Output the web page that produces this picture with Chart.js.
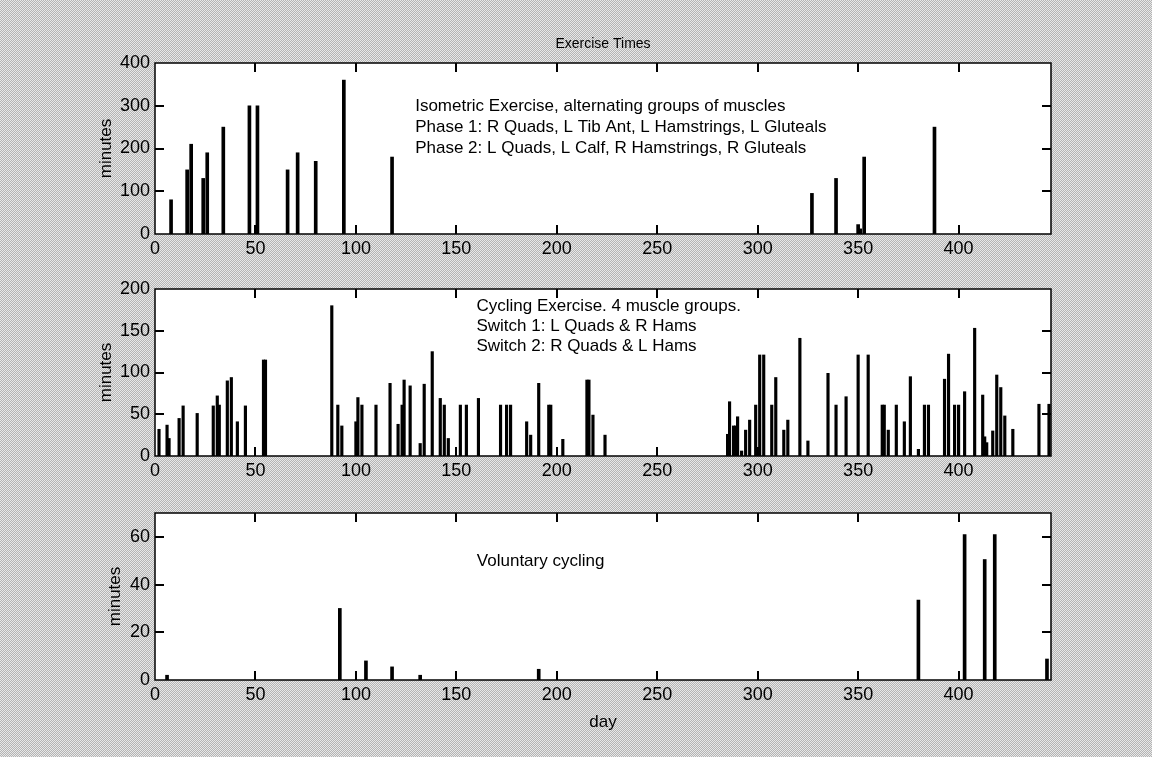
<!DOCTYPE html>
<html>
<head>
<meta charset="utf-8">
<script src="https://cdn.jsdelivr.net/npm/chart.js@4.4.0/dist/chart.umd.min.js"></script>
<style>
  html, body { margin: 0; padding: 0; }
  body {
    width: 1152px; height: 757px; overflow: hidden; position: relative;
    background: repeating-conic-gradient(#b4b4b4 0 25%, #e8e8e8 0 50%) 0 0 / 2px 2px;
  }
  canvas { position: absolute; left: 0; top: 0; }
</style>
</head>
<body>
<canvas id="iso" width="1152" height="757"></canvas>
<canvas id="cyc" width="1152" height="757"></canvas>
<canvas id="vol" width="1152" height="757"></canvas>
<script>
// isometric exercise sessions (day, minutes)
const isoDays = [8, 16, 18, 24, 26, 34, 47, 51, 66, 71, 80, 94, 118, 327, 339, 350, 351, 353, 388];
const isoMins = [80, 150, 210, 130, 190, 250, 300, 300, 150, 190, 170, 360, 180, 95, 130, 22, 12, 180, 250];

// cycling exercise sessions
const cycDays = [2, 6, 7, 12, 14, 21, 29, 31, 32, 36, 38, 41, 45, 54, 55, 88, 91, 93, 100, 101,
  103, 110, 117, 121, 123, 124, 127, 132, 134, 138, 142, 144, 146, 152, 155, 161, 172, 175, 177, 185,
  187, 191, 196, 197, 203, 215, 216, 218, 224, 285, 286, 288, 289, 290, 292, 294, 296, 299, 301, 303,
  307, 309, 313, 315, 321, 325, 335, 339, 344, 350, 355, 362, 363, 365, 369, 373, 376, 380, 383, 385,
  393, 395, 398, 400, 403, 408, 412, 413, 414, 417, 419, 421, 423, 427, 440, 445];
const cycMins = [32, 37, 21, 45, 60, 51, 60, 72, 61, 90, 94, 41, 60, 115, 115, 180, 61, 36, 41, 70,
  61, 61, 87, 38, 61, 91, 84, 15, 86, 125, 69, 61, 21, 61, 61, 69, 61, 61, 61, 41,
  25, 87, 61, 61, 20, 91, 91, 49, 25, 26, 65, 36, 36, 47, 6, 31, 43, 61, 121, 121,
  61, 94, 31, 43, 141, 18, 99, 61, 71, 121, 121, 61, 61, 31, 61, 41, 95, 8, 61, 61,
  92, 122, 61, 61, 77, 153, 73, 23, 16, 30, 97, 82, 48, 32, 62, 62];

// voluntary cycling sessions
const volDays = [6, 92, 105, 118, 132, 191, 380, 403, 413, 418, 444];
const volMins = [2, 30, 8, 5.5, 2, 4.5, 33.5, 61, 50.5, 61, 8.8];

const isoNotes = ['Isometric Exercise, alternating groups of muscles',
  'Phase 1: R Quads, L Tib Ant, L Hamstrings, L Gluteals',
  'Phase 2: L Quads, L Calf, R Hamstrings, R Gluteals'];
const cycNotes = ['Cycling Exercise. 4 muscle groups.',
  'Switch 1: L Quads & R Hams',
  'Switch 2: R Quads & L Hams'];
const volNotes = ['Voluntary cycling'];

const FONT = "'Liberation Sans', Arial, sans-serif";

// white plot area, box, inward ticks and the text notes
const framePlugin = {
  id: 'frame',
  beforeDraw(chart) {
    const { ctx, chartArea: a } = chart;
    ctx.save();
    ctx.fillStyle = '#fff';
    ctx.fillRect(a.left, a.top, a.right - a.left, a.bottom - a.top);
    ctx.restore();
  },
  afterDatasetsDraw(chart, args, opts) {
    const { ctx, chartArea: a, scales: { x, y } } = chart;
    ctx.save();
    ctx.strokeStyle = '#000';
    ctx.lineWidth = 2;
    ctx.beginPath();
    x.ticks.forEach(t => {
      const px = Math.round(x.getPixelForValue(t.value));
      if (px <= a.left + 1 || px >= a.right - 1) return;
      ctx.moveTo(px, a.bottom); ctx.lineTo(px, a.bottom - 9);
      ctx.moveTo(px, a.top); ctx.lineTo(px, a.top + 9);
    });
    y.ticks.forEach(t => {
      const py = Math.round(y.getPixelForValue(t.value));
      if (py <= a.top + 1 || py >= a.bottom - 1) return;
      ctx.moveTo(a.left, py); ctx.lineTo(a.left + 9, py);
      ctx.moveTo(a.right, py); ctx.lineTo(a.right - 9, py);
    });
    ctx.stroke();
    ctx.lineWidth = 1.5;
    ctx.strokeRect(a.left, a.top, a.right - a.left, a.bottom - a.top);

    ctx.fillStyle = '#000';
    ctx.font = '17px ' + FONT;
    ctx.textBaseline = 'middle';
    const nx = x.getPixelForValue(opts.at[0]);
    const ny = y.getPixelForValue(opts.at[1]);
    opts.lines.forEach((s, i) => ctx.fillText(s, nx, ny + i * opts.gap));
    ctx.restore();
  }
};

function makeChart(id, days, mins, cfg) {
  const points = days.map((d, i) => ({ x: d, y: mins[i] }));
  return new Chart(document.getElementById(id), {
    type: 'bar',
    data: {
      datasets: [{
        data: points,
        backgroundColor: '#000',
        borderWidth: 0,
        barThickness: cfg.thick
      }]
    },
    options: {
      responsive: false,
      animation: false,
      layout: { padding: { left: 155 - cfg.yWidth, right: 101, top: cfg.padTop, bottom: cfg.padBottom } },
      plugins: {
        legend: { display: false },
        tooltip: { enabled: false },
        title: {
          display: !!cfg.title,
          text: cfg.title || '',
          fullSize: false,
          color: '#000',
          font: { family: FONT, size: 14, weight: 'normal' },
          padding: { top: 2, bottom: 10 }
        },
        frame: { lines: cfg.notes, at: cfg.noteAt, gap: cfg.gap }
      },
      scales: {
        x: {
          type: 'linear',
          min: 0, max: 446,
          offset: false,
          grid: { display: false, drawTicks: false },
          border: { display: false },
          ticks: { stepSize: 50, includeBounds: false, maxRotation: 0, padding: 4,
                   color: '#000', font: { family: FONT, size: 18 } },
          title: { display: !!cfg.xTitle, text: cfg.xTitle || '', color: '#000',
                   font: { family: FONT, size: 17 }, padding: 0 },
          afterFit(s) { s.height = cfg.xHeight; }
        },
        y: {
          min: 0, max: cfg.yMax,
          grid: { display: false, drawTicks: false },
          border: { display: false },
          ticks: { stepSize: cfg.yStep, includeBounds: false, padding: 5,
                   color: '#000', font: { family: FONT, size: 18 } },
          title: { display: true, text: 'minutes', color: '#000',
                   font: { family: FONT, size: 17 }, padding: 0 },
          afterFit(s) { s.width = cfg.yWidth; }
        }
      }
    },
    plugins: [framePlugin]
  });
}

makeChart('iso', isoDays, isoMins, {
  title: 'Exercise Times', yMax: 400, yStep: 100, yWidth: 59, thick: 3,
  padTop: 34.2, padBottom: 498, xHeight: 25,
  notes: isoNotes, noteAt: [129.5, 298], gap: 21
});
makeChart('cyc', cycDays, cycMins, {
  yMax: 200, yStep: 50, yWidth: 59, thick: 2.5,
  padTop: 289, padBottom: 276, xHeight: 25,
  notes: cycNotes, noteAt: [160, 179.5], gap: 20
});
makeChart('vol', volDays, volMins, {
  yMax: 70, yStep: 20, yWidth: 50, thick: 3,
  padTop: 513, padBottom: 24, xHeight: 53, xTitle: 'day',
  notes: volNotes, noteAt: [160.2, 49.8], gap: 20
});
</script>
</body>
</html>
